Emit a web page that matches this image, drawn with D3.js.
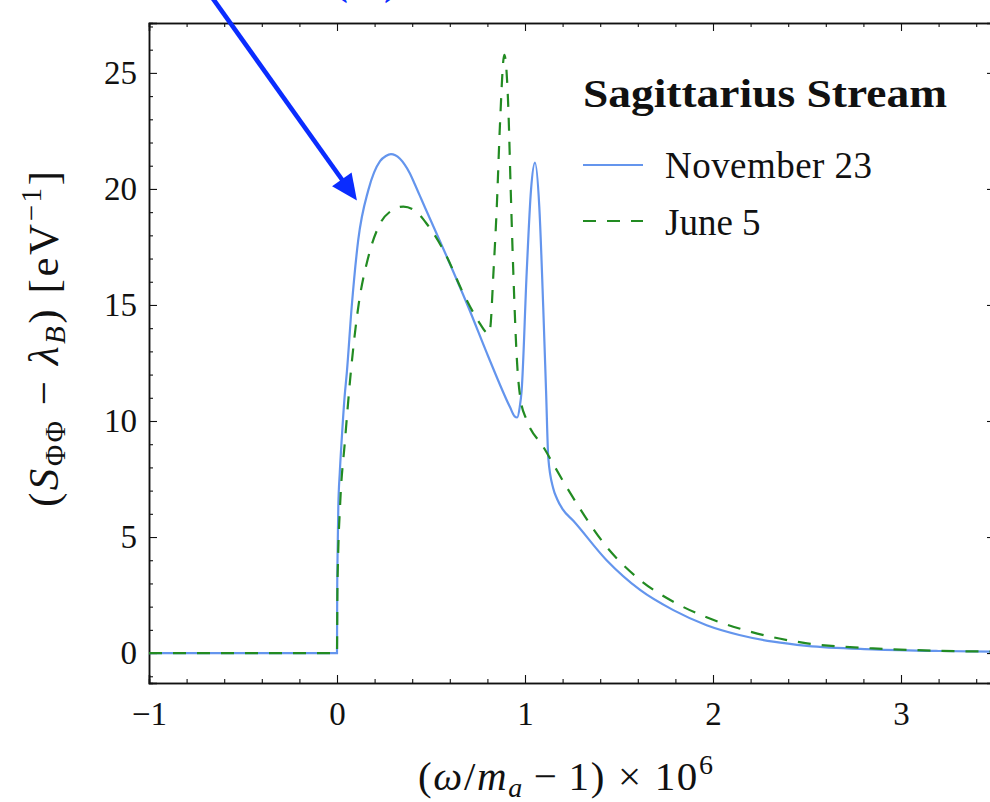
<!DOCTYPE html>
<html>
<head>
<meta charset="utf-8">
<script src="https://cdn.jsdelivr.net/npm/d3@7"></script>
<style>
  body { margin: 0; background: #fff; }
  svg { display: block; font-family: "Liberation Serif", "Times New Roman", serif; }
</style>
</head>
<body>
<svg id="chart" width="990" height="802"></svg>
<script>
// values
const novX = [-1, 0, 0.001, 0.003, 0.007, 0.015, 0.025, 0.04, 0.052, 0.078, 0.113, 0.167, 0.229, 0.26, 0.287, 0.31, 0.335, 0.36, 0.388, 0.414, 0.441, 0.468, 0.583, 0.699, 0.805, 0.92, 0.945, 0.958, 0.972, 0.982, 1.009, 1.032, 1.053, 1.076, 1.097, 1.112, 1.124, 1.15, 1.17, 1.2, 1.257, 1.434, 1.612, 1.789, 1.966, 2.14, 2.32, 2.5, 2.85, 3.2, 3.5];
const novY = [0, 0, 2.5, 4.2, 6.3, 7.8, 9.2, 11.0, 12.06, 14.9, 17.8, 19.96, 21.2, 21.42, 21.5, 21.45, 21.3, 21.05, 20.67, 20.2, 19.7, 19.2, 17.1, 14.9, 12.77, 10.6, 10.2, 10.15, 10.6, 11.3, 16.4, 19.96, 21.13, 19.24, 14.9, 11.3, 8.4, 7.1, 6.65, 6.2, 5.7, 4.0, 2.72, 1.85, 1.2, 0.78, 0.49, 0.31, 0.16, 0.09, 0.06];

const junX = [-1, 0, 0.002, 0.006, 0.016, 0.043, 0.073, 0.113, 0.167, 0.229, 0.282, 0.353, 0.424, 0.477, 0.583, 0.663, 0.76, 0.79, 0.805, 0.815, 0.832, 0.85, 0.867, 0.89, 0.911, 0.924, 0.938, 0.956, 0.977, 1.009, 1.097, 1.22, 1.434, 1.612, 1.789, 1.966, 2.14, 2.32, 2.5, 2.85, 3.2, 3.5];
const junY = [0, 0, 2.5, 4.2, 6.3, 9.2, 12.06, 14.9, 17.08, 18.5, 19.02, 19.24, 19.0, 18.5, 17.1, 15.65, 14.2, 13.85, 13.75, 14.0, 16.37, 19.24, 22.8, 25.78, 23.55, 19.96, 16.37, 12.77, 10.9, 10.04, 8.89, 7.17, 4.58, 3.15, 2.21, 1.54, 1.06, 0.68, 0.42, 0.2, 0.1, 0.06];

const xTicks = [-1, 0, 1, 2, 3];
const yTicks = [0, 5, 10, 15, 20, 25];
const seriesNames = ['November 23', 'June 5'];
const legendTitle = 'Sagittarius Stream';
const arrowFrom = [-0.66, 28.2];
const arrowTo = [0.106, 19.5];

const svg = d3.select('#chart');
const plotLeft = 149, plotRight = 995, plotTop = 23, plotBottom = 683;

const x = d3.scaleLinear().domain([-1, 3.5]).range([plotLeft, plotRight]);
const y = d3.scaleLinear().domain([-1.29, 27.15]).range([plotBottom, plotTop]);

const xMinor = d3.range(-1, 3.5001, 0.2).map(v => +v.toFixed(2)).filter(v => !xTicks.includes(v));
const yMinor = d3.range(-1, 28, 1).filter(v => v % 5 !== 0);

const fmt = d => (d < 0 ? '\u2212' + Math.abs(d) : String(d));

// axes, ticks pointing inward on all four sides
function styleAxis(g) {
    g.select('.domain').attr('stroke', '#111').attr('stroke-width', 1.5);
    g.selectAll('.tick line').attr('stroke', '#111').attr('stroke-width', 1.1);
    g.selectAll('.tick text').attr('fill', '#111').style('font-size', '33px')
        .style('font-family', '"Liberation Serif", serif');
}

svg.append('g').attr('transform', `translate(0,${plotBottom})`)
    .call(d3.axisBottom(x).tickValues(xTicks).tickSize(-8).tickPadding(19).tickFormat(fmt))
    .call(styleAxis);
svg.append('g').attr('transform', `translate(0,${plotBottom})`)
    .call(d3.axisBottom(x).tickValues(xMinor).tickSize(-4).tickFormat(''))
    .call(styleAxis);
svg.append('g').attr('transform', `translate(0,${plotTop})`)
    .call(d3.axisTop(x).tickValues(xTicks).tickSize(-8).tickFormat(''))
    .call(styleAxis);
svg.append('g').attr('transform', `translate(0,${plotTop})`)
    .call(d3.axisTop(x).tickValues(xMinor).tickSize(-4).tickFormat(''))
    .call(styleAxis);

svg.append('g').attr('transform', `translate(${plotLeft},0)`)
    .call(d3.axisLeft(y).tickValues(yTicks).tickSize(-8).tickPadding(12).tickFormat(fmt))
    .call(styleAxis);
svg.append('g').attr('transform', `translate(${plotLeft},0)`)
    .call(d3.axisLeft(y).tickValues(yMinor).tickSize(-4).tickFormat(''))
    .call(styleAxis);
svg.append('g').attr('transform', `translate(${plotRight},0)`)
    .call(d3.axisRight(y).tickValues(yTicks).tickSize(-8).tickFormat(''))
    .call(styleAxis);
svg.append('g').attr('transform', `translate(${plotRight},0)`)
    .call(d3.axisRight(y).tickValues(yMinor).tickSize(-4).tickFormat(''))
    .call(styleAxis);

// curves
svg.append('clipPath').attr('id', 'plot-clip')
    .append('rect').attr('x', plotLeft).attr('y', plotTop)
    .attr('width', plotRight - plotLeft).attr('height', plotBottom - plotTop);

const line = d3.line()
    .x(d => x(d[0]))
    .y(d => y(d[1]))
    .curve(d3.curveMonotoneX);

const plot = svg.append('g').attr('clip-path', 'url(#plot-clip)');
plot.append('path')
    .datum(novX.map((v, i) => [v, novY[i]]))
    .attr('d', line)
    .attr('fill', 'none')
    .attr('stroke', '#6495ed')
    .attr('stroke-width', 2.2);
plot.append('path')
    .datum(junX.map((v, i) => [v, junY[i]]))
    .attr('d', line)
    .attr('fill', 'none')
    .attr('stroke', '#228b22')
    .attr('stroke-width', 2.2)
    .attr('stroke-dasharray', '13,11');

// annotation arrow
const p0 = [x(arrowFrom[0]), y(arrowFrom[1])];
const p1 = [x(arrowTo[0]), y(arrowTo[1])];
const len = Math.hypot(p1[0] - p0[0], p1[1] - p0[1]);
const ux = (p1[0] - p0[0]) / len, uy = (p1[1] - p0[1]) / len;
const headLen = 26, headHalf = 12;
const base = [p1[0] - ux * headLen, p1[1] - uy * headLen];
svg.append('line')
    .attr('x1', p0[0]).attr('y1', p0[1])
    .attr('x2', base[0] + ux * 2).attr('y2', base[1] + uy * 2)
    .attr('stroke', '#0a2cff').attr('stroke-width', 4.6);
svg.append('path')
    .attr('d', `M${p1[0]},${p1[1]}L${base[0] - uy * headHalf},${base[1] + ux * headHalf}L${base[0] + uy * headHalf},${base[1] - ux * headHalf}Z`)
    .attr('fill', '#0a2cff');
// annotation label, cut by the top edge as in the reference
svg.append('text')
    .attr('x', 335).attr('y', -5)
    .attr('textLength', 62).attr('lengthAdjust', 'spacing')
    .attr('fill', '#0a2cff')
    .style('font-size', '38px').style('font-weight', 'bold')
    .text('(a)');

// legend
const legend = svg.append('g');
legend.append('text')
    .attr('x', 583).attr('y', 107)
    .attr('textLength', 364).attr('lengthAdjust', 'spacingAndGlyphs')
    .style('font-size', '39px').style('font-weight', 'bold')
    .attr('fill', '#111')
    .text(legendTitle);
const legendStyles = [
    { color: '#6495ed', dash: null, yLine: 165, yText: 178 },
    { color: '#228b22', dash: '13,11', yLine: 221, yText: 235 }
];
seriesNames.forEach((name, i) => {
    const s = legendStyles[i];
    legend.append('line')
        .attr('x1', 583).attr('x2', 643)
        .attr('y1', s.yLine).attr('y2', s.yLine)
        .attr('stroke', s.color).attr('stroke-width', 2.2)
        .attr('stroke-dasharray', s.dash);
    legend.append('text')
        .attr('x', 665).attr('y', s.yText)
        .attr('textLength', name.length > 8 ? 207 : null)
        .style('font-size', '37px').attr('fill', '#111')
        .text(name);
});

// axis labels
const xl = svg.append('text')
    .attr('x', 418).attr('y', 790)
    .attr('textLength', 295).attr('lengthAdjust', 'spacing')
    .style('font-size', '41px').attr('fill', '#111');
xl.append('tspan').text('(');
xl.append('tspan').style('font-style', 'italic').text('\u03c9');
xl.append('tspan').text('/');
xl.append('tspan').style('font-style', 'italic').text('m');
xl.append('tspan').style('font-style', 'italic').style('font-size', '28px').attr('dy', 7).text('a');
xl.append('tspan').attr('dy', -7).text('\u2009\u2212\u20091) \u00d7 10');
xl.append('tspan').style('font-size', '28px').attr('dy', -16).text('6');

const yl = svg.append('text')
    .attr('transform', 'translate(58,507) rotate(-90)')
    .attr('textLength', 336).attr('lengthAdjust', 'spacing')
    .style('font-size', '43px').attr('fill', '#111');
yl.append('tspan').text('(');
yl.append('tspan').style('font-style', 'italic').text('S');
yl.append('tspan').style('font-size', '29px').attr('dy', 7).text('\u03a6\u03a6');
yl.append('tspan').attr('dy', -7).text(' \u2212 ');
yl.append('tspan').style('font-style', 'italic').text('\u03bb');
yl.append('tspan').style('font-style', 'italic').style('font-size', '29px').attr('dy', 7).text('B');
yl.append('tspan').attr('dy', -7).text(') [eV');
yl.append('tspan').style('font-size', '29px').attr('dy', -17).text('\u22121');
yl.append('tspan').attr('dy', 17).text(']');
</script>
</body>
</html>
